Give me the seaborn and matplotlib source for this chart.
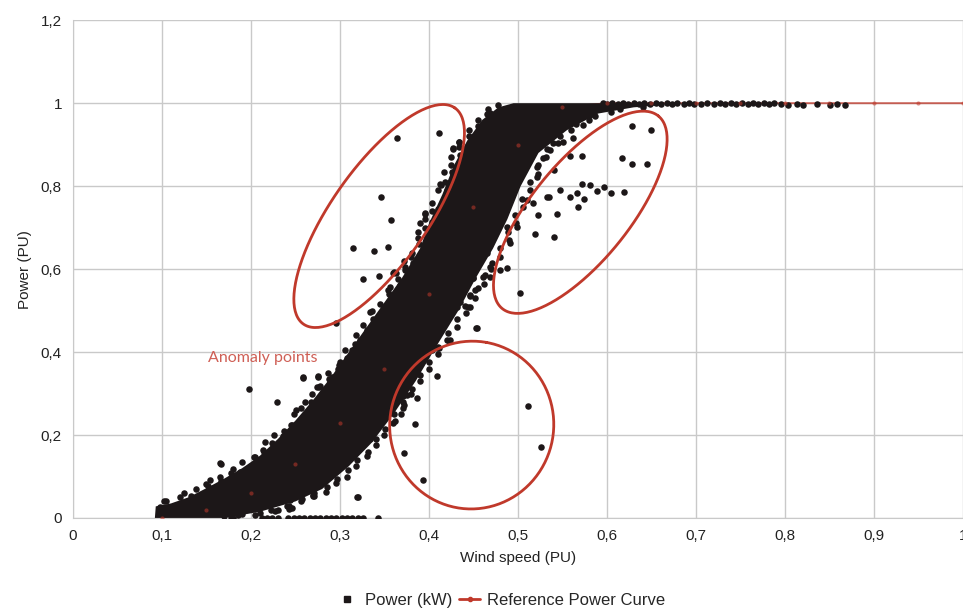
import numpy as np
import pandas as pd
import seaborn as sns
import matplotlib
matplotlib.use("Agg")
import matplotlib.pyplot as plt
from matplotlib.lines import Line2D
from matplotlib.ticker import FuncFormatter

# outline of the dense core of the measured cloud (wind speed PU, power PU)
band_speed = [0.092, 0.093, 0.11, 0.13, 0.15, 0.17, 0.19, 0.21, 0.23, 0.25, 0.27, 0.29, 0.31,
              0.33, 0.35, 0.37, 0.39, 0.40, 0.415, 0.428, 0.443, 0.46, 0.478, 0.495, 0.66,
              0.66, 0.63, 0.59, 0.555, 0.523, 0.503, 0.488, 0.472, 0.453, 0.433, 0.41, 0.385,
              0.36, 0.335, 0.31, 0.28, 0.25, 0.21, 0.17]
band_power = [0.0, 0.028, 0.035, 0.05, 0.072, 0.095, 0.12, 0.15, 0.19, 0.235, 0.285, 0.34, 0.40,
              0.46, 0.52, 0.58, 0.65, 0.71, 0.78, 0.85, 0.91, 0.96, 0.99, 1.0, 1.0,
              0.995, 0.99, 0.975, 0.935, 0.88, 0.80, 0.72, 0.65, 0.58, 0.50, 0.42, 0.33,
              0.25, 0.18, 0.125, 0.07, 0.04, 0.015, 0.0]

# single measurements read around the cloud
edge_speed = [0.098, 0.135, 0.154, 0.165, 0.176, 0.188, 0.204, 0.216, 0.246, 0.285, 0.270,
              0.244, 0.230, 0.246, 0.178, 0.319, 0.258, 0.275, 0.274, 0.291, 0.300, 0.313,
              0.251, 0.322, 0.330, 0.360, 0.367, 0.373, 0.382, 0.393, 0.437, 0.446, 0.455,
              0.449, 0.463, 0.431, 0.446, 0.454, 0.415, 0.424, 0.409, 0.396, 0.388, 0.386,
              0.376, 0.367, 0.375, 0.360, 0.334, 0.465, 0.454, 0.434, 0.427, 0.440, 0.426,
              0.435, 0.413, 0.420, 0.396, 0.390, 0.403, 0.469, 0.465, 0.483, 0.466, 0.454,
              0.521, 0.521, 0.510, 0.517, 0.499, 0.488, 0.491, 0.472, 0.469, 0.480, 0.488,
              0.469, 0.450, 0.539, 0.551, 0.562, 0.573, 0.581, 0.566, 0.536, 0.528, 0.468,
              0.305, 0.166, 0.178, 0.271, 0.320, 0.334, 0.243, 0.244, 0.285]
edge_power = [0.027, 0.043, 0.092, 0.132, 0.093, 0.111, 0.148, 0.184, 0.224, 0.099, 0.055,
              0.048, 0.019, 0.024, 0.003, 0.051, 0.339, 0.342, 0.316, 0.340, 0.376, 0.405,
              0.260, 0.429, 0.453, 0.590, 0.561, 0.598, 0.614, 0.629, 0.545, 0.537, 0.554,
              0.578, 0.585, 0.509, 0.509, 0.458, 0.470, 0.429, 0.410, 0.388, 0.369, 0.349,
              0.328, 0.308, 0.296, 0.229, 0.193, 0.638, 0.622, 0.906, 0.891, 0.887, 0.834,
              0.831, 0.802, 0.790, 0.735, 0.711, 0.713, 0.976, 0.951, 0.983, 0.918, 0.882,
              0.846, 0.822, 0.766, 0.759, 0.701, 0.701, 0.663, 0.677, 0.605, 0.598, 0.602,
              0.581, 0.578, 0.904, 0.906, 0.916, 0.947, 0.971, 0.959, 0.887, 0.867, 0.971,
              0.280, 0.130, 0.094, 0.053, 0.051, 0.190, 0.022, 0.043, 0.096]

# ragged upper/left border of the cloud
upper_speed = [0.102, 0.105, 0.120, 0.125, 0.133, 0.138, 0.150, 0.152, 0.165, 0.166, 0.177,
               0.180, 0.189, 0.190, 0.203, 0.203, 0.213, 0.215, 0.224, 0.226, 0.237, 0.236,
               0.245, 0.248, 0.257, 0.256, 0.267, 0.268, 0.277, 0.278, 0.288, 0.287, 0.299,
               0.298, 0.308, 0.306, 0.317, 0.318, 0.325, 0.326, 0.337, 0.336, 0.345, 0.345,
               0.355, 0.354, 0.365, 0.363, 0.373, 0.372, 0.381, 0.380, 0.389, 0.388, 0.395,
               0.395, 0.403, 0.403, 0.410, 0.410, 0.418, 0.417, 0.425, 0.425, 0.435, 0.434,
               0.445, 0.445, 0.455, 0.455, 0.465, 0.466, 0.477]
upper_power = [0.040, 0.042, 0.050, 0.060, 0.052, 0.070, 0.082, 0.077, 0.098, 0.090, 0.108,
               0.118, 0.106, 0.135, 0.128, 0.148, 0.165, 0.158, 0.180, 0.200, 0.210, 0.197,
               0.225, 0.250, 0.240, 0.265, 0.280, 0.300, 0.290, 0.318, 0.335, 0.350, 0.370,
               0.360, 0.385, 0.405, 0.420, 0.440, 0.425, 0.465, 0.480, 0.500, 0.490, 0.515,
               0.540, 0.550, 0.575, 0.590, 0.605, 0.620, 0.640, 0.630, 0.660, 0.675, 0.700,
               0.720, 0.740, 0.760, 0.745, 0.790, 0.810, 0.835, 0.850, 0.870, 0.875, 0.895,
               0.920, 0.935, 0.945, 0.960, 0.975, 0.985, 0.995]

# ragged lower/right border of the cloud
lower_speed = [0.170, 0.185, 0.190, 0.205, 0.210, 0.222, 0.227, 0.240, 0.243, 0.256, 0.257,
               0.270, 0.271, 0.284, 0.285, 0.296, 0.297, 0.308, 0.309, 0.318, 0.319, 0.330,
               0.331, 0.341, 0.341, 0.350, 0.351, 0.362, 0.361, 0.371, 0.371, 0.380, 0.381,
               0.390, 0.390, 0.400, 0.400, 0.410, 0.411, 0.420, 0.421, 0.432, 0.431, 0.442,
               0.441, 0.452, 0.452, 0.462, 0.461, 0.470, 0.471, 0.480, 0.480, 0.490, 0.489,
               0.498, 0.497, 0.506, 0.505, 0.514, 0.513, 0.522, 0.522, 0.532, 0.533, 0.545,
               0.547, 0.560, 0.565, 0.580, 0.587, 0.605, 0.615, 0.640]
lower_power = [0.004, 0.008, 0.010, 0.006, 0.012, 0.020, 0.018, 0.028, 0.030, 0.040, 0.045,
               0.052, 0.060, 0.062, 0.075, 0.085, 0.095, 0.100, 0.115, 0.125, 0.140, 0.150,
               0.160, 0.175, 0.190, 0.200, 0.215, 0.235, 0.250, 0.265, 0.280, 0.300, 0.310,
               0.330, 0.345, 0.360, 0.375, 0.395, 0.410, 0.430, 0.445, 0.460, 0.480, 0.495,
               0.510, 0.530, 0.550, 0.565, 0.580, 0.600, 0.615, 0.630, 0.650, 0.670, 0.690,
               0.710, 0.730, 0.750, 0.770, 0.790, 0.810, 0.830, 0.850, 0.870, 0.890, 0.905,
               0.920, 0.935, 0.950, 0.960, 0.970, 0.978, 0.985, 0.990]

# points far from the curve (circled in the figure)
anomaly_speed = [0.364, 0.411, 0.427, 0.434, 0.346, 0.357, 0.412, 0.427, 0.396, 0.388, 0.315,
                 0.338, 0.354, 0.326, 0.344, 0.361, 0.296, 0.334, 0.356,
                 0.628, 0.650, 0.617, 0.628, 0.645, 0.558, 0.572, 0.540, 0.572, 0.581, 0.589,
                 0.597, 0.604, 0.619, 0.535, 0.547, 0.558, 0.566, 0.574, 0.567, 0.523, 0.544,
                 0.519, 0.540, 0.502, 0.533,
                 0.409, 0.386, 0.371, 0.372, 0.368, 0.384, 0.372, 0.393, 0.511, 0.526, 0.453,
                 0.422, 0.444, 0.446, 0.435, 0.438, 0.416, 0.410, 0.403,
                 0.198, 0.229, 0.258, 0.275, 0.285, 0.276, 0.261]
anomaly_power = [0.916, 0.928, 0.890, 0.907, 0.774, 0.718, 0.806, 0.830, 0.734, 0.690, 0.652,
                 0.644, 0.654, 0.575, 0.583, 0.594, 0.470, 0.497, 0.557,
                 0.945, 0.936, 0.868, 0.853, 0.853, 0.872, 0.872, 0.840, 0.805, 0.802, 0.788,
                 0.798, 0.783, 0.786, 0.774, 0.790, 0.774, 0.783, 0.769, 0.749, 0.730, 0.732,
                 0.684, 0.677, 0.542, 0.774,
                 0.342, 0.289, 0.294, 0.272, 0.251, 0.227, 0.156, 0.092, 0.270, 0.172, 0.458,
                 0.427, 0.508, 0.535, 0.520, 0.549, 0.470, 0.412, 0.405,
                 0.311, 0.280, 0.337, 0.340, 0.316, 0.316, 0.280]

# turbine stopped: power zero
zero_speed = [0.180, 0.212, 0.218, 0.224, 0.230, 0.242, 0.248, 0.254, 0.260, 0.266, 0.272,
              0.278, 0.284, 0.290, 0.296, 0.302, 0.308, 0.314, 0.320, 0.326, 0.343]
zero_power = [0.0] * len(zero_speed)

# rated power plateau
rated_speed = [0.595, 0.600, 0.606, 0.612, 0.618, 0.624, 0.630, 0.636, 0.642, 0.648, 0.655,
               0.661, 0.667, 0.673, 0.679, 0.686, 0.692, 0.698, 0.706, 0.712, 0.720, 0.727,
               0.733, 0.739, 0.745, 0.752, 0.758, 0.764, 0.770, 0.776, 0.782, 0.788, 0.795,
               0.803, 0.813, 0.820, 0.836, 0.851, 0.858, 0.867]
rated_power = [1.0, 0.998, 1.0, 0.997, 1.0, 0.998, 1.0, 0.997, 1.0, 0.998, 1.0,
               0.997, 1.0, 0.998, 1.0, 0.997, 1.0, 0.998, 0.997, 1.0, 0.998, 1.0,
               0.997, 1.0, 0.998, 1.0, 0.997, 1.0, 0.998, 1.0, 0.997, 1.0, 0.998,
               0.996, 0.997, 0.996, 0.998, 0.996, 0.998, 0.996]

# reference power curve
ref_speed = [0.10, 0.15, 0.20, 0.25, 0.30, 0.35, 0.40, 0.45, 0.50, 0.55, 0.60, 0.65, 0.70,
             0.75, 0.80, 0.85, 0.90, 0.95, 1.00]
ref_power = [0.0, 0.02, 0.06, 0.13, 0.23, 0.36, 0.54, 0.75, 0.90, 0.99, 1.0, 1.0, 1.0,
             1.0, 1.0, 1.0, 1.0, 1.0, 1.0]

x_ticks = [0, 0.1, 0.2, 0.3, 0.4, 0.5, 0.6, 0.7, 0.8, 0.9, 1.0]
y_ticks = [0, 0.2, 0.4, 0.6, 0.8, 1.0, 1.2]

pts = pd.DataFrame({
    "speed": edge_speed + upper_speed + lower_speed + anomaly_speed + zero_speed + rated_speed,
    "power": edge_power + upper_power + lower_power + anomaly_power + zero_power + rated_power,
})
ref = pd.DataFrame({"speed": ref_speed, "power": ref_power})

sns.set_style("whitegrid", {"grid.color": "#c9c9c9", "axes.edgecolor": "#c9c9c9"})
plt.rcParams["font.family"] = ["Liberation Sans", "DejaVu Sans"]

dot = "#1c1718"
red = "#c0392b"

fig = plt.figure(figsize=(9.63, 6.13), dpi=100)
ax = fig.add_axes([0.0758, 0.155, 0.9242, 0.812])

# reference curve sits under the cloud, its markers faintly on top
sns.lineplot(data=ref, x="speed", y="power", color=red, lw=1.4, alpha=0.75,
             ax=ax, zorder=1, legend=False)
ax.fill(band_speed, band_power, color=dot, lw=0, zorder=2)
sns.scatterplot(data=pts, x="speed", y="power", color=dot, s=22, marker="o",
                linewidth=0, ax=ax, zorder=3, legend=False)
sns.scatterplot(data=ref, x="speed", y="power", color=red, s=9, alpha=0.55,
                linewidth=0, ax=ax, zorder=4, legend=False)


def ellipse(cx, cy, a, b, ang):
    # a, b, angle given in screen pixels, converted to data units
    t = np.linspace(0, 2 * np.pi, 200)
    r = np.deg2rad(ang)
    ex = a * np.cos(t) * np.cos(r) - b * np.sin(t) * np.sin(r)
    ey = a * np.cos(t) * np.sin(r) + b * np.sin(t) * np.cos(r)
    ax.plot(cx + ex / 890, cy + ey / 415, color="#c0392b", lw=2, zorder=5)


ellipse(0.344, 0.728, 132, 48, 55)
ellipse(0.570, 0.737, 124, 49, 51)
ellipse(0.448, 0.224, 84, 82, 80)

ax.text(0.152, 0.386, "Anomaly points", color="#cf5f55", fontsize=11.5,
        family=["Lato", "DejaVu Sans"], va="center", ha="left", zorder=6)

ax.set_xlim(0, 1)
ax.set_ylim(0, 1.2)
ax.set_xticks(x_ticks)
ax.set_yticks(y_ticks)
fmt = FuncFormatter(lambda v, p: ("%g" % round(v, 2)).replace(".", ","))
ax.xaxis.set_major_formatter(fmt)
ax.yaxis.set_major_formatter(fmt)
ax.tick_params(axis="both", labelsize=11, colors="#222222", pad=8, length=0)
ax.set_xlabel("Wind speed (PU)", fontsize=11, color="#222222", labelpad=6)
ax.set_ylabel("Power (PU)", fontsize=11, color="#222222", labelpad=6)
ax.grid(True, lw=1.0)
for s in ["top", "right"]:
    ax.spines[s].set_visible(False)

handles = [
    Line2D([], [], color=dot, marker="s", markersize=4, linestyle="none"),
    Line2D([], [], color=red, marker="o", markersize=3, lw=2),
]
fig.legend(handles, ["Power (kW)", "Reference Power Curve"], loc="center",
           bbox_to_anchor=(0.52, 0.021), ncol=2, frameon=False, fontsize=12,
           handlelength=1.3, handletextpad=0.4, columnspacing=0.4)

fig.savefig("out.png", dpi=100)
